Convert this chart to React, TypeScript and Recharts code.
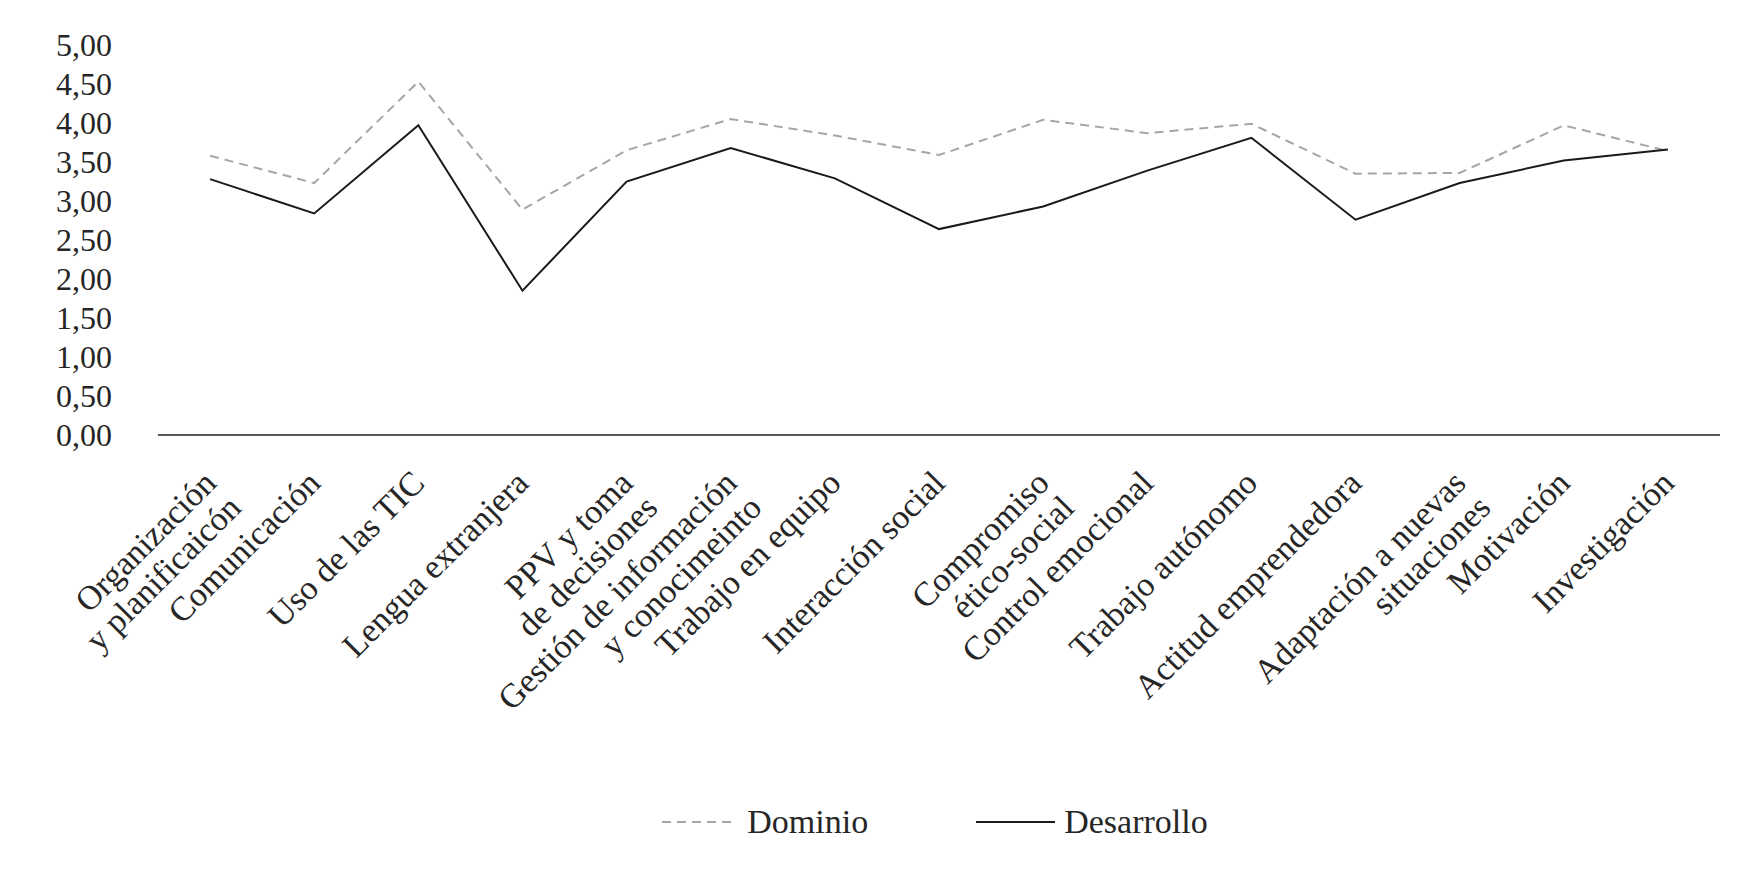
import React from 'react';
import { LineChart, Line, XAxis, YAxis, Legend } from 'recharts';

const categories = [
  'Organización\ny planificaicón',
  'Comunicación',
  'Uso de las TIC',
  'Lengua extranjera',
  'PPV y toma\nde decisiones',
  'Gestión de información\ny conocimeinto',
  'Trabajo en equipo',
  'Interacción social',
  'Compromiso\nético-social',
  'Control emocional',
  'Trabajo autónomo',
  'Actitud emprendedora',
  'Adaptación a nuevas\nsituaciones',
  'Motivación',
  'Investigación',
];

const dominio = [3.58, 3.23, 4.53, 2.89, 3.65, 4.05, 3.84, 3.59, 4.04, 3.87, 3.99, 3.35, 3.36, 3.97, 3.64];
const desarrollo = [3.28, 2.84, 3.97, 1.85, 3.25, 3.68, 3.29, 2.64, 2.93, 3.39, 3.81, 2.76, 3.23, 3.52, 3.66];

const yTicks = [0, 0.5, 1, 1.5, 2, 2.5, 3, 3.5, 4, 4.5, 5];

const FONT = '"Liberation Serif", "DejaVu Serif", serif';
const TEXT = '#262626';

const data = categories.map((name, i) => ({
  name,
  dominio: dominio[i],
  desarrollo: desarrollo[i],
}));

const fmt = (v: number) => v.toFixed(2).replace('.', ',');

const CategoryTick = (props: any) => {
  const { x, y, payload } = props;
  const lines = String(payload.value).split('\n');
  return (
    <g transform={`translate(${x + 8},${y + 50})`}>
      <text transform="rotate(-45)" textAnchor="end" fontFamily={FONT} fontSize={34} fill={TEXT}>
        {lines.map((l, i) => (
          <tspan key={i} x={0} dy={i === 0 ? 0 : 35}>
            {l}
          </tspan>
        ))}
      </text>
    </g>
  );
};

const LegendContent = () => (
  <div
    style={{
      display: 'flex',
      justifyContent: 'center',
      alignItems: 'center',
      height: 100,
      paddingLeft: 150,
      paddingBottom: 32,
      boxSizing: 'border-box',
      fontFamily: FONT,
      fontSize: 34,
      color: TEXT,
    }}
  >
    <svg width={73} height={10} style={{ marginRight: 12 }}>
      <line x1={0} y1={5} x2={73} y2={5} stroke="#a6a6a6" strokeWidth={2} strokeDasharray="9 6" />
    </svg>
    <span style={{ marginRight: 108 }}>Dominio</span>
    <svg width={79} height={10} style={{ marginRight: 9 }}>
      <line x1={0} y1={5} x2={79} y2={5} stroke="#1a1a1a" strokeWidth={2} />
    </svg>
    <span>Desarrollo</span>
  </div>
);

export default function App() {
  return (
    <div style={{ position: 'absolute', left: 0, top: 0, width: 1753, height: 888, background: '#fff' }}>
      <LineChart width={1753} height={888} data={data} margin={{ top: 45, right: 33, bottom: 0, left: 0 }}>
        <XAxis
          dataKey="name"
          scale="band"
          interval={0}
          height={353}
          tickLine={false}
          tickSize={0}
          tickMargin={0}
          axisLine={{ stroke: '#595959', strokeWidth: 2 }}
          tick={<CategoryTick />}
        />
        <YAxis
          domain={[0, 5]}
          ticks={yTicks}
          interval={0}
          width={158}
          axisLine={false}
          tickLine={false}
          tickSize={0}
          tickMargin={46}
          tickFormatter={fmt}
          tick={{ fontFamily: FONT, fontSize: 32, fill: TEXT }}
        />
        <Legend verticalAlign="bottom" height={100} content={<LegendContent />} />
        <Line
          dataKey="dominio"
          name="Dominio"
          type="linear"
          stroke="#a6a6a6"
          strokeWidth={2}
          strokeDasharray="9 6"
          dot={false}
          isAnimationActive={false}
        />
        <Line
          dataKey="desarrollo"
          name="Desarrollo"
          type="linear"
          stroke="#1a1a1a"
          strokeWidth={2}
          dot={false}
          isAnimationActive={false}
        />
      </LineChart>
    </div>
  );
}
